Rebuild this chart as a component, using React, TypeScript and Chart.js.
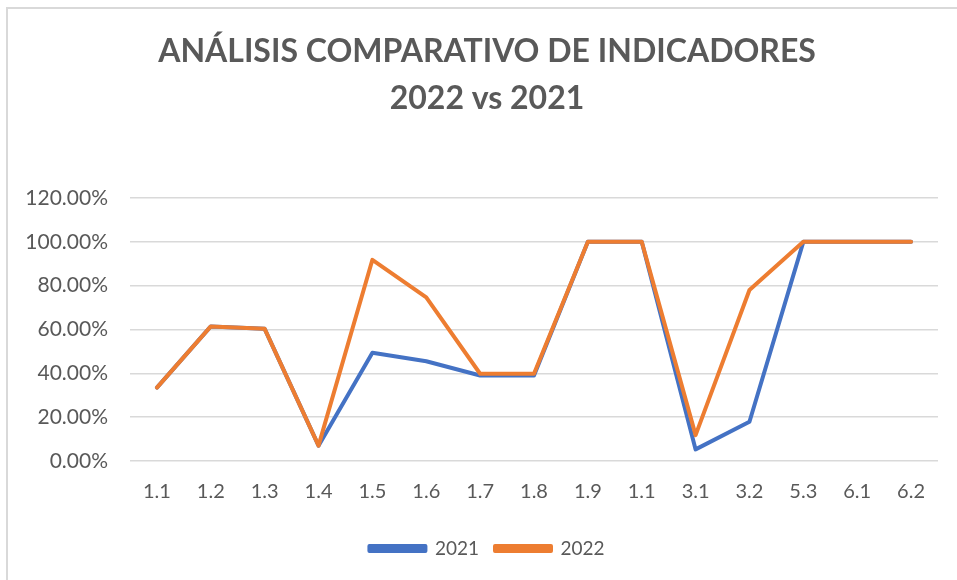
import React, { useEffect, useRef } from "react";
import { Chart, registerables } from "chart.js";

Chart.register(...registerables);

const categories = ["1.1", "1.2", "1.3", "1.4", "1.5", "1.6", "1.7", "1.8", "1.9", "1.1", "3.1", "3.2", "5.3", "6.1", "6.2"];
const values2021 = [33.5, 61.4, 60.3, 7.0, 49.4, 45.5, 39.0, 39.0, 100, 100, 5.3, 17.9, 100, 100, 100];
const values2022 = [33.5, 61.4, 60.3, 7.0, 91.8, 74.7, 39.8, 39.8, 100, 100, 11.8, 78.0, 100, 100, 100];
const titleLines = ["ANÁLISIS COMPARATIVO DE INDICADORES", "2022 vs 2021"];
const yMin = 0;
const yMax = 120;
const yStep = 20;

const TEXT = "#595959";
const FONT = "Lato, 'Open Sans', sans-serif";

const centerShift = {
  id: "centerShift",
  afterLayout(chart: any) {
    const shift = 18;
    for (const b of [chart.titleBlock, chart.legend]) {
      if (b) {
        b.left += shift;
        b.right += shift;
      }
    }
  },
};

export default function App() {
  const ref = useRef<HTMLCanvasElement | null>(null);

  useEffect(() => {
    if (!ref.current) return;
    const chart = new Chart(ref.current, {
      type: "line",
      data: {
        labels: categories,
        datasets: [
          {
            label: "2021",
            data: values2021,
            borderColor: "#4472C4",
            backgroundColor: "#4472C4",
            borderWidth: 4,
            pointRadius: 0,
            pointHoverRadius: 0,
            borderJoinStyle: "round",
            borderCapStyle: "round",
            tension: 0,
            order: 1,
          },
          {
            label: "2022",
            data: values2022,
            borderColor: "#ED7D31",
            backgroundColor: "#ED7D31",
            borderWidth: 4,
            pointRadius: 0,
            pointHoverRadius: 0,
            borderJoinStyle: "round",
            borderCapStyle: "round",
            tension: 0,
            order: 0,
          },
        ],
      },
      options: {
        responsive: false,
        animation: false,
        layout: { padding: { left: 0, right: 19, top: 0, bottom: 12 } },
        plugins: {
          title: {
            display: true,
            text: titleLines,
            color: TEXT,
            font: { family: FONT, size: 32, weight: "bold", lineHeight: 47 / 32 },
            padding: { top: 28, bottom: 76 },
          },
          legend: {
            position: "bottom",
            labels: {
              color: TEXT,
              font: { family: FONT, size: 19 },
              boxWidth: 56,
              boxHeight: 5,
              padding: 16,
              sort: (a: any, b: any) => a.datasetIndex - b.datasetIndex,
            },
          },
          tooltip: { enabled: false },
        },
        scales: {
          x: {
            offset: true,
            grid: { display: false, drawTicks: false },
            border: { display: false },
            ticks: {
              color: TEXT,
              font: { family: FONT, size: 20 },
              padding: 19,
              maxRotation: 0,
              autoSkip: false,
            },
          },
          y: {
            min: yMin,
            max: yMax,
            afterFit: (scale: any) => {
              scale.width = 130;
            },
            grid: { color: "#d9d9d9", lineWidth: 1.5, drawTicks: false },
            border: { display: false },
            ticks: {
              stepSize: yStep,
              color: TEXT,
              font: { family: FONT, size: 21 },
              padding: 22,
              callback: (v: any) => Number(v).toFixed(2) + "%",
            },
          },
        },
      },
      plugins: [centerShift],
    });
    return () => chart.destroy();
  }, []);

  return (
    <div style={{ position: "absolute", left: 0, top: 0, width: 957, height: 580, background: "#fff", overflow: "hidden" }}>
      <div
        style={{
          position: "absolute",
          left: 6,
          top: 7,
          width: 960,
          height: 580,
          borderLeft: "2px solid #d9d9d9",
          borderTop: "2px solid #d9d9d9",
          boxSizing: "border-box",
        }}
      />
      <canvas ref={ref} width={957} height={580} style={{ position: "absolute", left: 0, top: 0 }} />
    </div>
  );
}
